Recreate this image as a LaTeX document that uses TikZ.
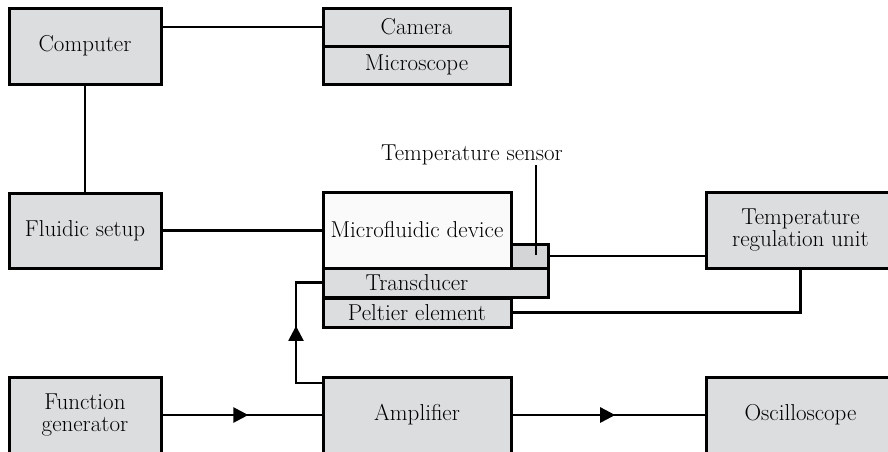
\documentclass[tikz,border=0pt]{standalone}
\usepackage{fontspec}
\usetikzlibrary{arrows.meta,decorations.markings}
\definecolor{boxgray}{RGB}{220,221,223}
\definecolor{sensgray}{RGB}{212,213,215}
\definecolor{devwhite}{RGB}{250,250,250}
\begin{document}
\begin{tikzpicture}[x=1pt,y=-1pt,
  every node/.style={font=\fontsize{23}{22}\selectfont},
  box/.style={draw=black,line width=3pt,fill=boxgray,inner sep=0pt,align=center},
  conn/.style={line width=2.5pt},
  midarrow/.style={postaction={decorate},decoration={markings,
     mark=at position #1 with {\arrow{Triangle[length=15pt,width=15pt]}}}}]
\useasboundingbox (0,0) rectangle (888,451);
\clip (0,0) rectangle (888,451);
% top row
\node[box,minimum width=152pt,minimum height=76pt] (comp) at (85,46) {Computer};
\node[box,minimum width=187pt,minimum height=38pt] (cam) at (416.5,27) {Camera};
\node[box,minimum width=187pt,minimum height=38pt] (micro) at (416.5,65) {Microscope};
% middle row
\node[box,minimum width=152pt,minimum height=75pt] (fluid) at (85,230.5) {Fluidic setup};
\node[box,fill=devwhite,minimum width=188pt,minimum height=76pt] (mfd) at (417,230) {Microfluidic device};
\node[box,fill=sensgray,minimum width=37pt,minimum height=24pt] (sens) at (529.5,256) {};
\node[box,minimum width=225pt,minimum height=29pt] (trans) at (435.5,282.5) {};
\node[inner sep=0pt] (transtxt) at (trans.center -| mfd.center) {Transducer};
\node[box,minimum width=188pt,minimum height=29pt] (pelt) at (417,312.5) {Peltier element};
\node[box,minimum width=189pt,minimum height=76pt] (tru) at (800.5,230) {Temperature\\regulation unit};
\node[inner sep=0pt,anchor=base] (slabel) at (472,160) {Temperature sensor};
\coordinate (sp) at (536,255);
% bottom row
\node[box,minimum width=152pt,minimum height=76pt] (fg) at (85,415) {Function\\generator};
\node[box,minimum width=188pt,minimum height=76pt] (amp) at (417,415) {Amplifier};
\node[box,minimum width=189pt,minimum height=76pt] (osc) at (800.5,415) {Oscilloscope};
\coordinate (a1) at (296,383);
% connectors
\draw[conn] (cam.west) -- (cam.west -| comp.east);
\draw[conn] (comp.south) -- (fluid.north);
\draw[conn] (fluid.east) -- (fluid.east -| mfd.west);
\draw[conn] (sens.east) -- (sens.east -| tru.west);
\draw[conn] (pelt.east) -| (tru.south);
\draw[line width=1.2pt] (sp) -- (sp |- slabel.south);
\draw[conn,midarrow=0.545] (a1 -| amp.west) -- (a1) -- (a1 |- trans.west) -- (trans.west);
\draw[conn,midarrow=0.54] (fg.east) -- (amp.west);
\draw[conn,midarrow=0.535] (amp.east) -- (osc.west);
\end{tikzpicture}
\end{document}
